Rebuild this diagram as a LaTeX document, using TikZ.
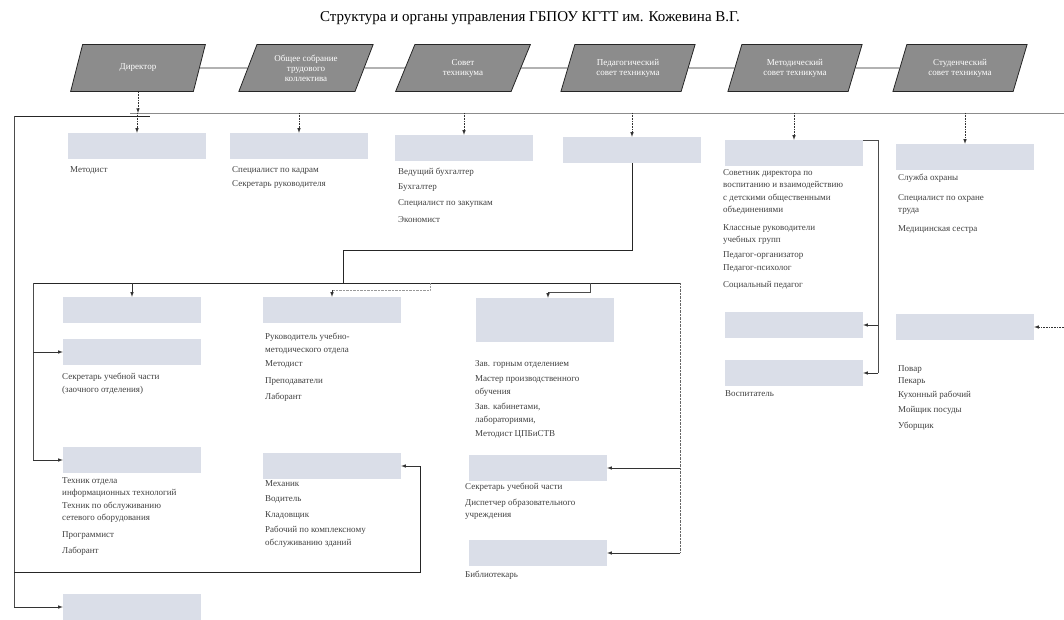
\documentclass[tikz,border=0pt]{standalone}
\usepackage{fontspec}
\setmainfont{Liberation Serif}
\usepackage{tikz}
\usetikzlibrary{arrows,positioning,calc,shapes.geometric}
\definecolor{organfill}{HTML}{8C8C8C}
\definecolor{unitfill}{HTML}{DADEE8}
\tikzstyle{organ}=[trapezium,trapezium left angle=67,trapezium right angle=113,trapezium stretches=true,draw=black!85,thick,fill=organfill,text=white,align=center,minimum width=135pt,minimum height=47pt,inner sep=1pt,font=\fontsize{9}{10}\selectfont]
\tikzstyle{unit}=[rectangle,fill=unitfill,minimum width=138pt,minimum height=26pt,inner sep=0pt]
\tikzstyle{staff}=[anchor=north west,align=left,inner sep=0pt,text=black!75,font=\fontsize{9}{12.5}\selectfont]
\tikzstyle{feed}=[-latex,semithick,black!80]
\tikzstyle{bus}=[thick,black!85]
\tikzstyle{faint}=[thin,black!40,densely dotted]

\begin{document}
\begin{tikzpicture}[x=1pt,y=-1pt]
  \useasboundingbox (0,0) rectangle (1064,620);
  \node (title) at (530,18) {\fontsize{15}{17}\selectfont Структура и органы управления ГБПОУ КГТТ им. Кожевина В.Г.};

  \node [organ] (dir) at (138,68) {Директор};
  \node [organ] (meet) at (306,68) {Общее собрание\\трудового\\коллектива};
  \node [organ] (council) at (463,68) {Совет\\техникума};
  \node [organ] (ped) at (628,68) {Педагогический\\совет техникума};
  \node [organ] (meth) at (795,68) {Методический\\совет техникума};
  \node [organ] (stud) at (960,68) {Студенческий\\совет техникума};
  \draw [bus] (dir) -- (meet);
  \draw [bus] (meet) -- (council);
  \draw [bus] (council) -- (ped);
  \draw [bus] (ped) -- (meth);
  \draw [bus] (meth) -- (stud);

  \node [unit] (u1) at (137,146) {};
  \node [unit] (u2) at (299,146) {};
  \node [unit] (u3) at (464,148) {};
  \node [unit] (u4) at (632,150) {};
  \node [unit] (u5) at (794,153) {};
  \node [unit] (u6) at (965,157) {};

  \coordinate (top) at (138,113);
  \coordinate (topR) at (1064,113);
  \draw [feed,densely dotted] (dir) -- (top);
  \draw [thin,black!45] (130,113) -- (topR);
  \foreach \u in {u1,u2,u3,u4,u5,u6}
    \draw [feed,densely dotted] (\u |- top) -- (\u);

  \node [staff] (s1) at (70,166) {Методист};
  \node [staff] (s2) at (232,166) {Специалист по кадрам\\[2pt]Секретарь руководителя};
  \node [staff] (s3) at (398,168) {Ведущий бухгалтер\\[2pt]Бухгалтер\\[4pt]Специалист по закупкам\\[4pt]Экономист};
  \node [staff] (s5) at (723,169) {Советник директора по\\воспитанию и взаимодействию\\с детскими общественными\\объединениями\\[5pt]Классные руководители\\учебных групп\\[2pt]Педагог-организатор\\[1pt]Педагог-психолог\\[4pt]Социальный педагог};
  \node [staff] (s6) at (898,174) {Служба охраны\\[7pt]Специалист по охране\\труда\\[6pt]Медицинская сестра};

  \node [unit] (a1) at (132,310) {};
  \node [unit] (a2) at (132,352) {};
  \node [unit] (a3) at (132,460) {};
  \node [unit] (b1) at (332,310) {};
  \node [unit] (b2) at (332,466) {};
  \node [unit,minimum height=44pt] (c1) at (545,320) {};
  \node [unit] (c2) at (538,468) {};
  \node [unit] (c3) at (538,553) {};
  \node [unit] (d2) at (794,325) {};
  \node [unit] (d3) at (794,373) {};
  \node [unit] (e2) at (965,327) {};
  \node [unit] (f1) at (132,607) {};

  \node [staff] (sa2) at (62,373) {Секретарь учебной части\\(заочного отделения)};
  \node [staff] (sa3) at (62,477) {Техник отдела\\информационных технологий\\Техник по обслуживанию\\сетевого оборудования\\[4pt]Программист\\[4pt]Лаборант};
  \node [staff] (sb1) at (265,333) {Руководитель учебно-\\методического отдела\\[2pt]Методист\\[4pt]Преподаватели\\[4pt]Лаборант};
  \node [staff] (sb2) at (265,480) {Механик\\[3pt]Водитель\\[3pt]Кладовщик\\[3pt]Рабочий по комплексному\\обслуживанию зданий};
  \node [staff] (sc1) at (475,360) {Зав. горным отделением\\[3pt]Мастер производственного\\обучения\\[3pt]Зав. кабинетами,\\лабораториями,\\[2pt]Методист ЦПБиСТВ};
  \node [staff] (sc2) at (465,483) {Секретарь учебной части\\[3pt]Диспетчер образовательного\\учреждения};
  \node [staff] (sc3) at (465,571) {Библиотекарь};
  \node [staff] (sd3) at (725,390) {Воспитатель};
  \node [staff] (se2) at (898,365) {Повар\\Пекарь\\[1pt]Кухонный рабочий\\[3pt]Мойщик посуды\\[3pt]Уборщик};

  \coordinate (outer) at (14,116);
  \draw [bus] (outer) -- (150,116);
  \draw [thin,black!70] (outer) -- (14,607);
  \draw [feed] (14,607) -- (f1);
  \draw [bus] (14,572) -- (420,572) -- (420,466);
  \draw [feed] (420,466) -- (b2);

  \coordinate (mid) at (343,283);
  \draw [bus] (u4) -- (632,250) -- (343,250) -- (mid);
  \draw [bus] (33,283) -- (680,283);
  \draw [thin,black!70] (33,283) -- (33,460);
  \draw [feed] (33,352) -- (a2);
  \draw [feed] (33,460) -- (a3);
  \draw [feed] (a1 |- mid) -- (a1);
  \draw [faint] (430,283) -- (430,290) -- (332,290);
  \draw [feed] (332,290) -- (b1);
  \draw [thin,black!70] (590,283) -- (590,292) -- (548,292);
  \draw [feed] (548,292) -- (c1.north -| 548,0);
  \draw [thin,black!60,densely dotted] (680,283) -- (680,553);
  \draw [feed] (680,468) -- (c2);
  \draw [feed] (680,553) -- (c3);

  \draw [thin,black!70] (u5.north east) -| (878,373);
  \draw [feed] (878,325) -- (d2);
  \draw [feed] (878,373) -- (d3);
  \coordinate (rightIn) at (1064,327);
  \draw [feed,densely dotted] (rightIn) -- (e2);
\end{tikzpicture}
\end{document}
